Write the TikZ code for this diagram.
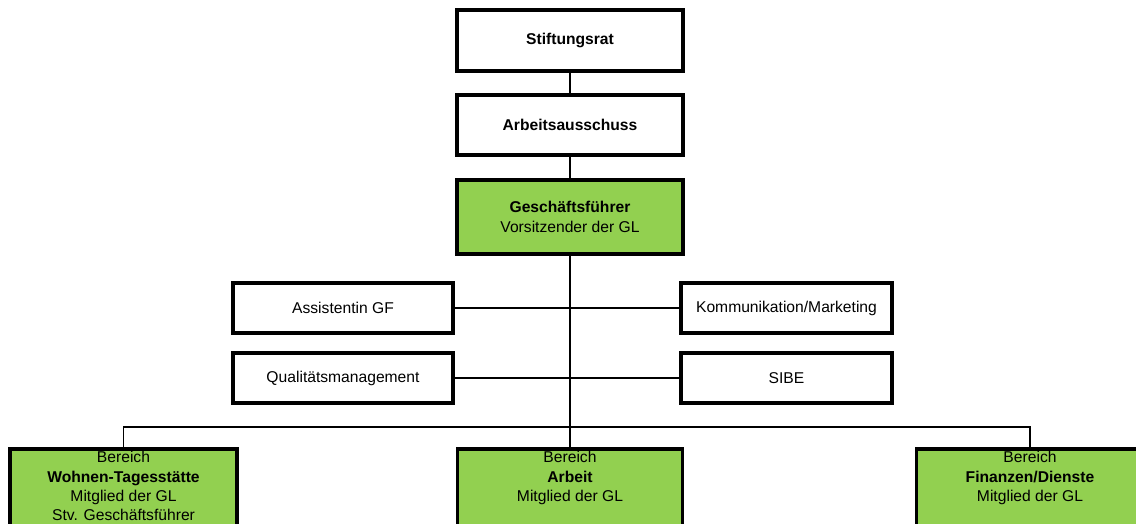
\documentclass[tikz,border=0pt]{standalone}
\usepackage{fontspec}
\setmainfont{Liberation Sans}
\definecolor{glgreen}{RGB}{146,208,80}
\tikzset{
  orgbox/.style={draw, line width=2pt, fill=white, align=center, inner sep=2pt,
    font=\fontsize{8.9}{11}\selectfont},
  glbox/.style={orgbox, fill=glgreen},
  link/.style={line width=1pt},
  buslink/.style={line width=0.8pt}
}
\newcommand{\bereichtext}[1]{\parbox[c][2.2cm][t]{4.4cm}{\vspace*{1.5pt}\centering #1}}

\begin{document}
\begin{tikzpicture}
  \useasboundingbox (0,0) rectangle (22.72,-10.48);
  \clip (0,0) rectangle (22.72,-10.48);

  % Leitung
  \node[orgbox, minimum width=4.52cm, minimum height=1.22cm] (stiftungsrat) at (11.4,-0.81) {\textbf{Stiftungsrat}};
  \node[orgbox, minimum width=4.52cm, minimum height=1.2cm] (ausschuss) at (11.4,-2.5) {\textbf{Arbeitsausschuss}};
  \node[glbox, minimum width=4.52cm, minimum height=1.48cm] (gf) at (11.4,-4.34)
    {\textbf{Geschäftsführer}\\Vorsitzender der GL};

  % Stabsstellen
  \node[orgbox, minimum width=4.4cm, minimum height=1cm] (assistenz) at (6.86,-6.16) {Assistentin GF};
  \node[orgbox, minimum width=4.4cm, minimum height=1cm] (qm) at (6.86,-7.56) {Qualitätsmanagement};
  \node[orgbox, minimum width=4.22cm, minimum height=1cm] (kommunikation) at (15.73,-6.16) {Kommunikation/Marketing};
  \node[orgbox, minimum width=4.22cm, minimum height=1cm] (sibe) at (15.73,-7.56) {SIBE};

  % Bereiche
  \node[glbox, anchor=north, minimum width=4.54cm, inner sep=0pt] (wohnen) at (2.47,-8.94)
    {\bereichtext{Bereich\\\textbf{Wohnen-Tagesstätte}\\Mitglied der GL\\Stv. Geschäftsführer}};
  \node[glbox, anchor=north, minimum width=4.5cm, inner sep=0pt] (arbeit) at (11.4,-8.94)
    {\bereichtext{Bereich\\\textbf{Arbeit}\\Mitglied der GL}};
  \node[glbox, anchor=north, minimum width=4.54cm, inner sep=0pt] (finanzen) at (20.6,-8.94)
    {\bereichtext{Bereich\\\textbf{Finanzen/Dienste}\\Mitglied der GL}};

  % Verbindungen
  \draw[link] (stiftungsrat) -- (ausschuss);
  \draw[link] (ausschuss) -- (gf);
  \draw[link] (gf) -- (arbeit);
  \draw[link] (assistenz) -- (kommunikation);
  \draw[link] (qm) -- (sibe);
  \coordinate (bus) at (11.4,-8.54);
  \draw[buslink] (wohnen.north) |- (bus) -| (finanzen.north);
\end{tikzpicture}
\end{document}
